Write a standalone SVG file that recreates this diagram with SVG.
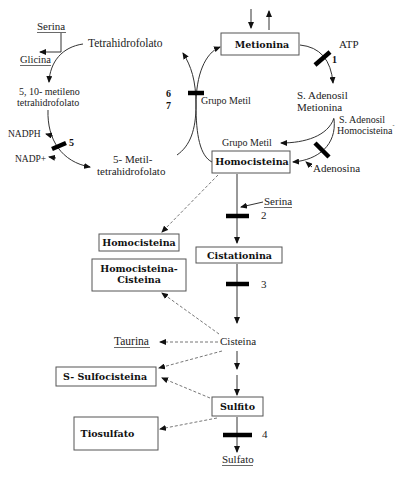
<svg xmlns="http://www.w3.org/2000/svg" width="413" height="478" viewBox="0 0 413 478">
<defs>
<marker id="ah" markerWidth="7" markerHeight="6" refX="6" refY="3" orient="auto" markerUnits="userSpaceOnUse">
<path d="M0,0 L7,3 L0,6 Z" fill="#111"/>
</marker>
<style>
.t{font-family:"Liberation Serif","Times New Roman",serif;font-size:11px;fill:#222}
.s{font-size:10px}
.b{font-family:"DejaVu Serif",serif;font-weight:bold;font-size:9.5px;fill:#111}
.n{font-family:"Liberation Serif",serif;font-weight:bold;font-size:10px;fill:#111}
.box{fill:#fff;stroke:#555;stroke-width:1}
.ln{fill:none;stroke:#333;stroke-width:1}
.arr{fill:none;stroke:#333;stroke-width:1;marker-end:url(#ah)}
.da{fill:none;stroke:#777;stroke-width:1;stroke-dasharray:3,2;marker-end:url(#ah)}
.bar{stroke:#000;stroke-width:4.5;fill:none}
.ul{stroke:#444;stroke-width:0.8}
</style>
</defs>
<rect width="413" height="478" fill="#fff"/>

<g id="connectors">
<line class="arr" x1="251" y1="9" x2="251" y2="28"/>
<line class="arr" x1="269" y1="30" x2="269" y2="11"/>
<path class="arr" d="M300,45 Q330,48 333,83"/>
<line class="bar" x1="315" y1="65" x2="330" y2="52"/>
<path class="arr" d="M334,118 C328,136 305,143 281,143"/>
<path class="arr" d="M334,119 C337,145 318,160 293,162"/>
<line class="bar" x1="315" y1="143" x2="329" y2="157"/>
<line class="arr" x1="312" y1="167" x2="306" y2="162"/>
<path class="arr" d="M177,155 C190,146 196,130 196,105 C196,80 191,66 183,53"/>
<path class="arr" d="M212,162 C200,156 196,135 196,105 C196,75 205,53 220,47"/>
<line class="bar" x1="188" y1="93" x2="204" y2="93"/>
<path class="arr" d="M61,33 V52 H40"/>
<path class="arr" d="M83,44 C62,47 50,62 49,82"/>
<path class="arr" d="M48,110 C47,140 62,162 90,167"/>
<line class="bar" x1="52" y1="149" x2="66" y2="143"/>
<line class="arr" x1="53" y1="136" x2="46" y2="134"/>
<line class="arr" x1="56" y1="158" x2="49" y2="157"/>
<line class="arr" x1="237" y1="174" x2="237" y2="243"/>
<path class="arr" d="M263,202 L241,207"/>
<line class="bar" x1="226" y1="216" x2="249" y2="216"/>
<line class="arr" x1="237" y1="264" x2="237" y2="323"/>
<line class="bar" x1="226" y1="284" x2="249" y2="284"/>
<line class="arr" x1="237" y1="351" x2="237" y2="369"/>
<line class="arr" x1="237" y1="375" x2="237" y2="395"/>
<line class="arr" x1="237" y1="417" x2="237" y2="452"/>
<line class="bar" x1="223" y1="435" x2="252" y2="435"/>
<line class="da" x1="218" y1="175" x2="162" y2="232"/>
<line class="da" x1="219" y1="334" x2="162" y2="293"/>
<line class="da" x1="218" y1="342" x2="160" y2="342"/>
<line class="da" x1="222" y1="351" x2="159" y2="368"/>
<line class="da" x1="210" y1="398" x2="162" y2="378"/>
<line class="da" x1="217" y1="418" x2="160" y2="429"/>
</g>

<g id="serina1"><text class="t" x="37" y="30">Serina</text><line class="ul" x1="37" y1="32.5" x2="66" y2="32.5"/></g>
<g id="glicina"><text class="t" x="20" y="63" style="font-size:10.5px">Glicina</text><line class="ul" x1="20" y1="65.5" x2="51" y2="65.5"/></g>
<g id="thf"><text class="t" x="88" y="47" style="font-size:11.5px">Tetrahidrofolato</text></g>
<g id="metileno-thf"><text class="t s" x="19" y="95">5, 10- metileno</text><text class="t s" x="17" y="106">tetrahidrofolato</text></g>
<g id="nadph"><text class="t" x="8" y="137" style="font-size:9.5px">NADPH</text></g>
<g id="nadp"><text class="t" x="15" y="162" style="font-size:9.5px">NADP+</text></g>
<g id="enz5"><text class="n" x="69" y="146">5</text></g>
<g id="metil-thf"><text class="t" x="113" y="163">5- Metil-</text><text class="t" x="97" y="175">tetrahidrofolato</text></g>
<g id="enz67"><text class="n" x="166" y="97">6</text><text class="n" x="166" y="109">7</text></g>
<g id="grupo-metil1"><text class="t s" x="201" y="104">Grupo Metil</text></g>
<g id="metionina"><rect class="box" x="221" y="33" width="78" height="22"/><text class="b" x="262" y="48" text-anchor="middle">Metionina</text></g>
<g id="atp"><text class="t" x="339" y="48">ATP</text></g>
<g id="enz1"><text class="n" x="332" y="63">1</text></g>
<g id="sam"><text class="t" x="297" y="99">S. Adenosil</text><text class="t" x="297" y="111">Metionina</text></g>
<g id="sah"><text class="t s" x="339" y="123">S. Adenosil</text><text class="t s" x="337" y="134">Homocisteina<tspan dy="-7" style="font-size:6px">-</tspan></text></g>
<g id="grupo-metil2"><text class="t s" x="222" y="146">Grupo Metil</text></g>
<g id="homocisteina"><rect class="box" x="212" y="151" width="78" height="22"/><text class="b" x="252" y="165" text-anchor="middle">Homocisteina</text></g>
<g id="adenosina"><text class="t" x="313" y="172">Adenosina</text></g>
<g id="serina2"><text class="t" x="264" y="205">Serina</text><line class="ul" x1="264" y1="207.5" x2="292" y2="207.5"/></g>
<g id="enz2"><text class="t" x="261" y="219">2</text></g>
<g id="cistationina"><rect class="box" x="196" y="247" width="86" height="16"/><text class="b" x="239.5" y="259" text-anchor="middle">Cistationina</text></g>
<g id="enz3"><text class="t" x="261" y="288">3</text></g>
<g id="homocisteina2"><rect class="box" x="99" y="234" width="80" height="17"/><text class="b" x="139" y="246" text-anchor="middle">Homocisteina</text></g>
<g id="homocisteina-cisteina"><rect class="box" x="92" y="259" width="94" height="32"/><text class="b" x="139" y="272" text-anchor="middle">Homocisteina-</text><text class="b" x="139" y="283" text-anchor="middle">Cisteina</text></g>
<g id="taurina"><text class="t" x="114" y="345" style="font-size:11.5px">Taurina</text><line class="ul" x1="114" y1="347.5" x2="150" y2="347.5"/></g>
<g id="cisteina"><text class="t" x="220" y="345">Cisteina</text></g>
<g id="s-sulfocisteina"><rect class="box" x="56" y="367" width="100" height="19"/><text class="b" x="105" y="380" text-anchor="middle">S- Sulfocisteina</text></g>
<g id="sulfito"><rect class="box" x="212" y="397" width="51" height="19"/><text class="b" x="237.5" y="410" text-anchor="middle">Sulfito</text></g>
<g id="tiosulfato"><rect class="box" x="74" y="417" width="84" height="33"/><text class="b" x="107.5" y="437" text-anchor="middle">Tiosulfato</text></g>
<g id="enz4"><text class="t" x="262" y="438">4</text></g>
<g id="sulfato"><text class="t" x="222" y="463">Sulfato</text><line class="ul" x1="222" y1="465.5" x2="253" y2="465.5"/></g>
</svg>
